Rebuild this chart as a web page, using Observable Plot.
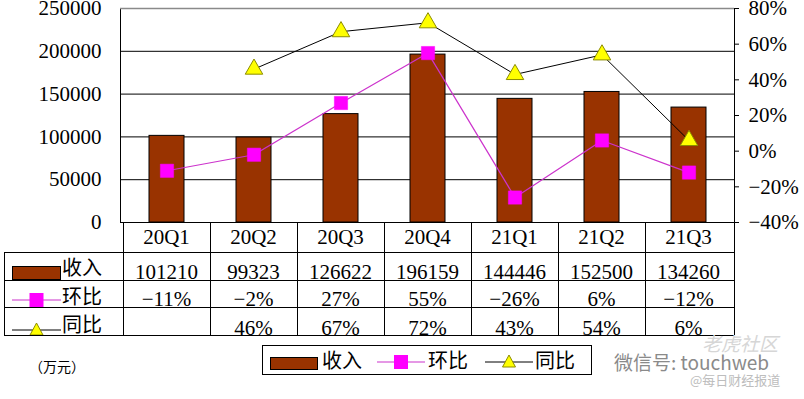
<!DOCTYPE html>
<html>
<head>
<meta charset="utf-8">
<script src="https://cdn.jsdelivr.net/npm/d3@7"></script>
<script src="https://cdn.jsdelivr.net/npm/@observablehq/plot@0.6"></script>
<style>
  html, body { margin: 0; padding: 0; background: #fff; }
  #wrap { position: relative; width: 804px; height: 399px; overflow: hidden; background: #fff;
          font-family: "Liberation Serif", "Noto Sans CJK SC", serif; color: #000; }
  #chart { position: absolute; left: 0; top: 0; }
  .abs { position: absolute; white-space: nowrap; }
  .zh { font-family: "Noto Sans CJK SC", sans-serif; }
</style>
</head>
<body>
<div id="wrap"></div>
<script>
// ---- data ----
const quarters = ["20Q1", "20Q2", "20Q3", "20Q4", "21Q1", "21Q2", "21Q3"];
const revenue  = [101210, 99323, 126622, 196159, 144446, 152500, 134260];   // 收入 (万元)
const qoq      = [-11, -2, 27, 55, -26, 6, -12];                             // 环比 %
const yoy      = [null, 46, 67, 72, 43, 54, 6];                               // 同比 %
const leftTicks  = [0, 50000, 100000, 150000, 200000, 250000];
const rightTicks = [-40, -20, 0, 20, 40, 60, 80];
const seriesNames = ["收入", "环比", "同比"];

const data = quarters.map((q, i) => ({q, rev: revenue[i], qoq: qoq[i], yoy: yoy[i]}));

// map percent (right axis) onto the left-axis value domain
const yMax = 250000, pMin = -40, pMax = 80;
const toLeft = p => (p - pMin) / (pMax - pMin) * yMax;
const fromLeft = v => Math.round(v / yMax * (pMax - pMin) + pMin);

const FONT = "'Liberation Serif', 'Noto Sans CJK SC', serif";
const BAR = "#993300", MAG = "#ff00ff", MAGLINE = "#cc33cc", TRI = "#ffff00", TRISTROKE = "#8c8c00";

const chart = Plot.plot({
  width: 804,
  height: 224,
  marginTop: 8,
  marginBottom: 2,
  marginLeft: 120,
  marginRight: 70,
  style: {fontFamily: FONT, fontSize: "21px", background: "transparent", overflow: "visible"},
  x: {domain: quarters, paddingInner: 0.6, paddingOuter: 0.3, axis: null},
  y: {domain: [0, yMax], axis: null},
  marks: [
    Plot.ruleY(leftTicks.filter(t => t > 0 && t < yMax), {stroke: "#000", strokeWidth: 1}),
    Plot.barY(data, {x: "q", y: "rev", fill: BAR, stroke: "#000", strokeWidth: 1}),
    Plot.line(data, {x: "q", y: d => toLeft(d.qoq), stroke: MAGLINE, strokeWidth: 1.2}),
    Plot.line(data, {x: "q", y: d => d.yoy == null ? NaN : toLeft(d.yoy), stroke: "#000", strokeWidth: 1}),
    Plot.dot(data, {x: "q", y: d => toLeft(d.qoq), symbol: "square", r: 7.5, fill: MAG, stroke: MAG, strokeWidth: 0.5}),
    Plot.dot(data.filter(d => d.yoy != null), {x: "q", y: d => toLeft(d.yoy), symbol: "triangle", r: 6.5, fill: TRI, stroke: TRISTROKE, strokeWidth: 1}),
    Plot.frame({stroke: "#000"}),
    Plot.ruleY([yMax], {stroke: "#8a8a8a", strokeWidth: 1.5}),
    Plot.axisY(leftTicks, {anchor: "left", tickSize: 0, tickPadding: 19, tickFormat: d => String(d), fontSize: 21, label: null}),
    Plot.axisY(rightTicks.map(toLeft), {anchor: "right", tickSize: 4, tickPadding: 10, textAnchor: "start",
      tickFormat: v => {const p = fromLeft(v); return (p < 0 ? "\u2212" + (-p) : p) + "%";}, fontSize: 21, label: null})
  ]
});
chart.id = "chart";
const wrap = document.getElementById("wrap");
wrap.appendChild(chart);

// ---- data table under the chart, aligned with the band scale ----
const xs = chart.scale("x");
const step = xs.step, bw = xs.bandwidth;
const colLeft = q => xs.apply(q) - (step - bw) / 2;
const plotLeft = 120, plotRight = 804 - 70, tableLeft = 4;
const rows = [
  {top: 222, bottom: 252, base: 243},
  {top: 252, bottom: 280, base: 278},
  {top: 280, bottom: 307, base: 305},
  {top: 307, bottom: 335, base: 334}
];
function el(tag, cls, style, html) {
  const e = document.createElement(tag);
  if (cls) e.className = cls;
  Object.assign(e.style, style);
  if (html != null) e.innerHTML = html;
  wrap.appendChild(e);
  return e;
}
function hline(x1, x2, y) { el("div", "abs", {left: x1 + "px", top: (y - 0.5) + "px", width: (x2 - x1) + "px", height: "1px", background: "#000"}); }
function vline(x, y1, y2) { el("div", "abs", {left: (x - 0.5) + "px", top: y1 + "px", width: "1px", height: (y2 - y1) + "px", background: "#000"}); }

const pctFmt = p => p == null ? "" : (p < 0 ? "\u2212" + (-p) : p) + "%";
const rowVals = [quarters, revenue.map(String), qoq.map(pctFmt), yoy.map(pctFmt)];
rowVals.forEach((vals, ri) => {
  const r = rows[ri];
  vals.forEach((v, ci) => {
    const x0 = colLeft(quarters[ci]);
    el("div", "abs", {left: x0 + "px", width: step + "px", top: (r.base - 16) + "px", textAlign: "center",
      fontSize: "21px", lineHeight: "20px"}, v);
  });
});

// row header legend entries
function markerSvg(kind, w, h) {
  const cx = w / 2, cy = h / 2;
  if (kind === 0) return `<svg width="${w}" height="${h}"><rect x="0.5" y="0.5" width="${w - 1}" height="${h - 1}" fill="${BAR}" stroke="#000"/></svg>`;
  if (kind === 1) return `<svg width="${w}" height="${h}"><line x1="0" x2="${w}" y1="${cy}" y2="${cy}" stroke="${MAGLINE}" stroke-width="1.2"/><rect x="${cx - 7}" y="${cy - 7}" width="14" height="14" fill="${MAG}"/></svg>`;
  return `<svg width="${w}" height="${h}"><line x1="0" x2="${w}" y1="${cy}" y2="${cy}" stroke="#000"/><path d="M${cx},${cy - 7}L${cx + 6.5},${cy + 5}L${cx - 6.5},${cy + 5}Z" fill="${TRI}" stroke="${TRISTROKE}"/></svg>`;
}
const hdr = [
  {mx: 12, my: 266, w: 49, h: 14, ty: 254},
  {mx: 12, my: 286, w: 49, h: 28, ty: 283},
  {mx: 12, my: 316, w: 49, h: 28, ty: 311}
];
seriesNames.forEach((name, i) => {
  const h = hdr[i];
  el("div", "abs", {left: h.mx + "px", top: h.my + "px", lineHeight: 0}, markerSvg(i, h.w, h.h));
  el("div", "abs zh", {left: "62px", top: h.ty + "px", fontSize: "20px", lineHeight: "26px"}, name);
});
// clip the bottom-row markers to the table like the original
el("div", "abs", {left: "0px", top: "335px", width: "120px", height: "12px", background: "#fff"});

// table borders
hline(plotLeft, plotRight, 222);
rows.slice(1).forEach(r => hline(tableLeft, plotRight, r.top));
hline(tableLeft, plotRight, 335);
vline(tableLeft, 252, 335);
quarters.forEach(q => vline(colLeft(q), 222, 335));
vline(plotRight, 222, 335);

// unit label
el("div", "abs zh", {left: "29px", top: "356px", fontSize: "14px", lineHeight: "20px"}, "（万元）");

// bottom legend
el("div", "abs", {left: "262px", top: "345px", width: "330px", height: "30px", border: "1px solid #000", boxSizing: "border-box", background: "#fff"});
const leg = [
  {mx: 270, my: 357, w: 48, h: 13, tx: 322},
  {mx: 377, my: 350, w: 48, h: 24, tx: 428},
  {mx: 485, my: 350, w: 48, h: 24, tx: 535}
];
seriesNames.forEach((name, i) => {
  const l = leg[i];
  el("div", "abs", {left: l.mx + "px", top: l.my + "px", lineHeight: 0}, markerSvg(i, l.w, l.h));
  el("div", "abs zh", {left: l.tx + "px", top: "346px", fontSize: "20px", lineHeight: "28px"}, name);
});

// watermark
el("div", "abs zh", {left: "702px", top: "333px", fontSize: "19px", lineHeight: "19px", color: "#d6d6d6", fontStyle: "italic"}, "老虎社区");
el("div", "abs zh", {left: "614px", top: "352px", fontSize: "19px", lineHeight: "19px", color: "#8a8a8a"}, "微信号: touchweb");
el("div", "abs zh", {left: "690px", top: "373px", fontSize: "13px", lineHeight: "13px", color: "#bdbdbd"}, "@每日财经报道");
</script>
</body>
</html>
